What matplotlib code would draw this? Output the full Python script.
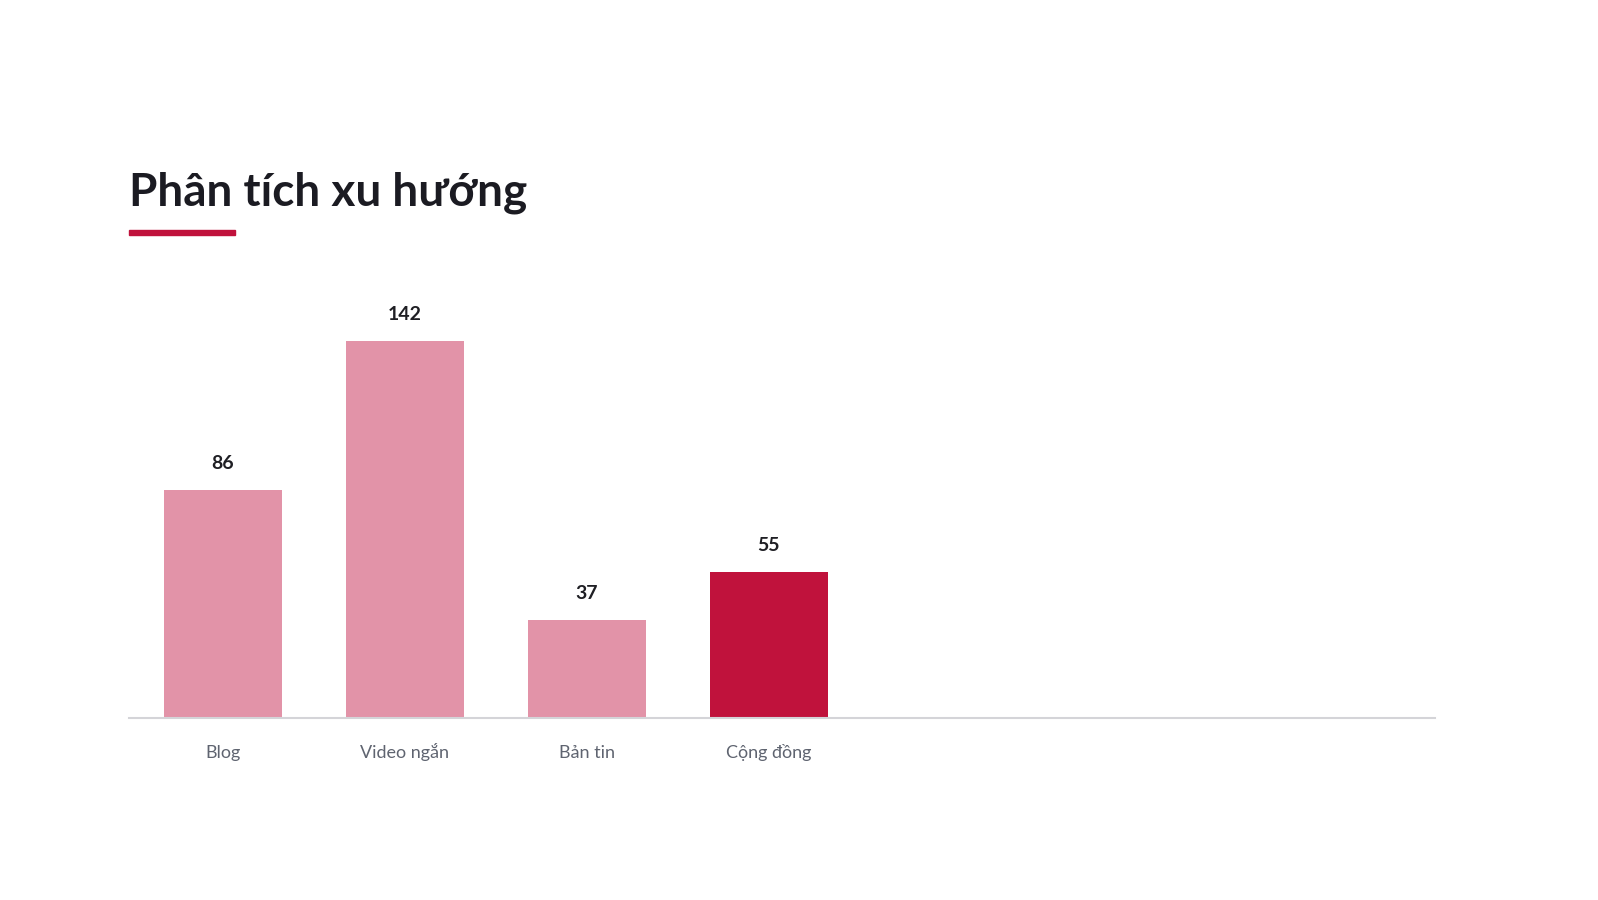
import matplotlib.pyplot as plt
from matplotlib.patches import Rectangle

plt.rcParams['font.family'] = ['Lato', 'DejaVu Sans']

categories = ['Blog', 'Video ngắn', 'Bản tin', 'Cộng đồng']
values = [86, 142, 37, 55]
highlight = 'Cộng đồng'

W, H = 1598, 900
fig = plt.figure(figsize=(W / 100, H / 100), dpi=100)

# axes box in pixels: left 129, right 1435, baseline 718, top 280
ax = fig.add_axes([129 / W, 1 - 718 / H, (1435 - 129) / W, (718 - 280) / H])

colors = ['#c0123c' if c == highlight else '#e293a8' for c in categories]
x = list(range(len(categories)))
ax.bar(x, values, width=0.65, color=colors, zorder=2)

for xi, v in zip(x, values):
    ax.annotate(str(v), (xi, v), xytext=(0, 15), textcoords='offset points',
                ha='center', va='baseline', fontsize=14, fontweight='bold',
                color='#1f1f24')

ax.set_xlim(-0.516, 6.66)
ax.set_ylim(0, 165)
ax.set_xticks(x)
ax.set_xticklabels(categories, fontsize=13, color='#5f6470')
for lbl in ax.get_xticklabels():
    lbl.set_va('baseline')
ax.tick_params(axis='x', length=0, pad=29)
ax.set_yticks([])
for s in ['top', 'right', 'left']:
    ax.spines[s].set_visible(False)
ax.spines['bottom'].set_color('#d4d4d8')
ax.spines['bottom'].set_linewidth(1.5)

# title and red underline
fig.text(129 / W, 1 - 205 / H, 'Phân tích xu hướng', fontsize=33,
         fontweight='bold', color='#1b1b22', ha='left', va='baseline')
fig.patches.append(Rectangle((129 / W, 1 - 235 / H), (235 - 129) / W, 5 / H,
                             transform=fig.transFigure, color='#c0123c'))

fig.savefig('out.png', dpi=100, facecolor='white')
